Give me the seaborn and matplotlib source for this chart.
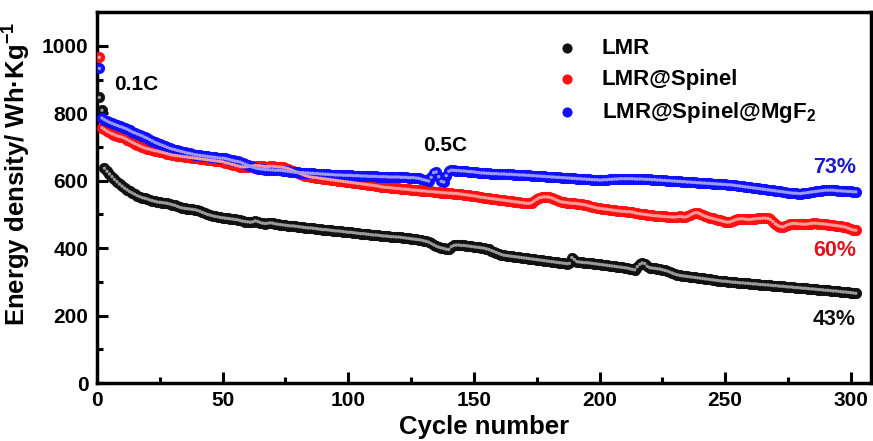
import numpy as np
import pandas as pd
import matplotlib
matplotlib.use("Agg")
import matplotlib.pyplot as plt
import seaborn as sns

# energy density (Wh/kg) per cycle
cycles = list(range(1, 303))

lmr = [847, 809, 637, 628, 620, 612, 604, 597, 590, 584,
       578, 573, 568, 564, 560, 556, 553, 550, 548, 546,
       543, 541, 539, 537, 536, 535, 534, 533, 531, 529,
       527, 524, 521, 519, 518, 517, 516, 515, 514, 512,
       509, 506, 503, 500, 498, 496, 494, 493, 491, 490,
       489, 488, 487, 486, 485, 484, 482, 480, 479, 478,
       477, 478, 481, 479, 476, 474, 473, 474, 475, 474,
       472, 471, 470, 469, 468, 467, 466, 466, 465, 464,
       463, 462, 461, 460, 460, 459, 458, 457, 456, 455,
       455, 454, 453, 452, 451, 451, 450, 449, 448, 447,
       447, 446, 445, 444, 443, 443, 442, 441, 440, 439,
       439, 438, 437, 436, 436, 435, 434, 434, 433, 433,
       432, 431, 430, 429, 428, 427, 426, 425, 424, 422,
       420, 418, 414, 410, 406, 403, 401, 399, 397, 396,
       404, 408, 409, 409, 408, 408, 407, 406, 405, 404,
       403, 402, 401, 400, 398, 396, 393, 390, 387, 384,
       381, 379, 378, 377, 376, 375, 374, 373, 372, 371,
       370, 369, 368, 367, 366, 365, 364, 363, 362, 361,
       360, 359, 358, 357, 356, 355, 354, 355, 372, 366,
       360, 359, 358, 357, 357, 356, 355, 354, 353, 352,
       351, 350, 349, 348, 347, 346, 345, 344, 343, 342,
       341, 339, 337, 336, 345, 352, 356, 354, 346, 342,
       341, 340, 339, 338, 336, 334, 332, 329, 326, 323,
       321, 319, 318, 317, 316, 315, 314, 313, 312, 311,
       310, 309, 308, 307, 306, 305, 304, 303, 302, 302,
       301, 300, 299, 299, 298, 297, 297, 296, 296, 295,
       294, 294, 293, 292, 292, 291, 291, 290, 289, 289,
       288, 287, 287, 286, 285, 285, 284, 283, 283, 282,
       281, 281, 280, 279, 279, 278, 277, 277, 276, 275,
       275, 274, 273, 273, 272, 271, 270, 270, 269, 268,
       267, 266]

spinel = [966, 757, 752, 747, 743, 739, 736, 733, 731, 729,
          726, 722, 718, 714, 710, 707, 703, 700, 697, 695,
          693, 691, 689, 688, 686, 684, 682, 680, 678, 676,
          675, 674, 673, 672, 671, 670, 669, 668, 667, 666,
          665, 664, 663, 662, 661, 660, 659, 658, 657, 656,
          654, 652, 650, 648, 646, 644, 642, 641, 641, 642,
          643, 644, 645, 645, 644, 643, 642, 642, 643, 643,
          642, 641, 641, 640, 638, 636, 633, 630, 627, 624,
          621, 618, 615, 613, 611, 610, 609, 608, 607, 606,
          605, 604, 603, 602, 601, 600, 599, 598, 597, 596,
          595, 594, 593, 592, 591, 590, 589, 588, 587, 586,
          585, 584, 582, 581, 580, 580, 579, 578, 577, 577,
          576, 575, 575, 574, 573, 572, 572, 571, 570, 570,
          569, 568, 568, 567, 566, 566, 565, 564, 564, 563,
          563, 562, 562, 561, 560, 559, 558, 557, 556, 555,
          554, 552, 551, 550, 549, 548, 547, 546, 545, 544,
          543, 542, 541, 540, 539, 538, 537, 536, 535, 534,
          533, 533, 535, 540, 545, 549, 551, 552, 552, 551,
          549, 546, 542, 539, 537, 536, 535, 534, 533, 533,
          532, 531, 530, 529, 527, 525, 523, 521, 519, 518,
          517, 516, 515, 514, 513, 512, 511, 510, 509, 509,
          508, 508, 507, 505, 503, 502, 501, 500, 499, 498,
          497, 496, 496, 495, 494, 494, 493, 493, 492, 492,
          493, 494, 493, 492, 494, 498, 502, 505, 505, 502,
          498, 495, 492, 490, 488, 486, 484, 482, 480, 478,
          477, 478, 481, 484, 486, 487, 487, 486, 485, 485,
          486, 487, 488, 488, 489, 489, 488, 485, 479, 472,
          467, 464, 463, 466, 470, 472, 473, 473, 472, 472,
          471, 471, 472, 473, 474, 474, 473, 472, 472, 471,
          470, 469, 468, 467, 466, 465, 464, 462, 459, 456,
          454, 453]

mgf2 = [933, 786, 781, 777, 773, 770, 767, 764, 761, 759,
        756, 753, 749, 745, 742, 739, 736, 733, 729, 726,
        722, 718, 714, 711, 708, 705, 702, 699, 696, 694,
        692, 690, 688, 686, 684, 682, 681, 679, 677, 676,
        675, 674, 673, 672, 671, 670, 669, 668, 667, 667,
        666, 664, 662, 660, 658, 657, 655, 652, 649, 646,
        643, 640, 638, 636, 635, 634, 633, 633, 632, 632,
        631, 631, 631, 630, 629, 628, 627, 626, 625, 625,
        624, 624, 623, 623, 622, 622, 621, 621, 620, 620,
        619, 619, 618, 618, 617, 617, 617, 616, 616, 616,
        616, 615, 615, 615, 614, 614, 614, 613, 613, 613,
        613, 612, 612, 612, 612, 611, 611, 611, 611, 611,
        610, 610, 610, 609, 609, 609, 608, 607, 605, 603,
        601, 599, 610, 624, 626, 612, 598, 596, 615, 628,
        631, 631, 630, 630, 629, 629, 628, 627, 627, 626,
        625, 624, 623, 623, 622, 622, 621, 621, 621, 620,
        620, 620, 619, 619, 619, 618, 618, 617, 617, 617,
        616, 616, 615, 615, 614, 614, 613, 613, 612, 612,
        611, 611, 610, 610, 609, 609, 608, 608, 607, 607,
        606, 606, 605, 605, 604, 604, 603, 603, 603, 602,
        602, 603, 603, 604, 604, 605, 605, 606, 606, 606,
        606, 606, 606, 605, 605, 605, 605, 604, 604, 604,
        603, 603, 602, 602, 601, 601, 600, 600, 599, 599,
        598, 598, 597, 597, 596, 596, 595, 595, 594, 594,
        593, 593, 592, 592, 591, 591, 590, 590, 589, 589,
        588, 588, 587, 586, 585, 584, 583, 582, 581, 580,
        579, 578, 577, 576, 575, 574, 573, 572, 571, 570,
        569, 568, 567, 566, 565, 564, 563, 563, 562, 562,
        563, 564, 565, 566, 567, 568, 569, 570, 571, 572,
        572, 572, 572, 571, 570, 570, 569, 569, 568, 568,
        567, 567]

labels = ["LMR", "LMR@Spinel", "LMR@Spinel@MgF$_2$"]
colors = ["#111111", "#ff1010", "#1010ff"]
shine = ["#9a9a9a", "#ff9a9a", "#9a9aff"]

sns.set_style("ticks")
plt.rcParams["font.family"] = ["Liberation Sans", "DejaVu Sans"]
plt.rcParams["font.weight"] = "bold"
plt.rcParams["text.color"] = "black"
plt.rcParams["axes.labelcolor"] = "black"
plt.rcParams["axes.edgecolor"] = "black"
plt.rcParams["xtick.color"] = "black"
plt.rcParams["ytick.color"] = "black"
plt.rcParams["mathtext.fontset"] = "custom"
plt.rcParams["mathtext.rm"] = "Liberation Sans:bold"
plt.rcParams["mathtext.it"] = "Liberation Sans:bold"
plt.rcParams["mathtext.bf"] = "Liberation Sans:bold"
plt.rcParams["mathtext.default"] = "rm"

df = pd.DataFrame({
    "cycle": cycles * 3,
    "energy": lmr + spinel + mgf2,
    "sample": [labels[0]] * len(lmr) + [labels[1]] * len(spinel) + [labels[2]] * len(mgf2),
})

fig = plt.figure(figsize=(8.73, 4.41), dpi=100)
ax = fig.add_axes([0.111, 0.1315, 0.8866, 0.841])

for lab, c, s in zip(labels, colors, shine):
    sub = df[df["sample"] == lab]
    sns.scatterplot(data=sub, x="cycle", y="energy", color=c, s=55,
                    edgecolor=c, linewidth=0.6, ax=ax, label=lab, zorder=3)
    sns.scatterplot(data=sub, x="cycle", y="energy", color=s, s=6,
                    edgecolor="none", ax=ax, legend=False, zorder=4)

ax.set_xlim(0, 308)
ax.set_ylim(0, 1100)
ax.set_xticks([0, 50, 100, 150, 200, 250, 300])
ax.set_xticks([25, 75, 125, 175, 225, 275], minor=True)
ax.set_yticks([0, 200, 400, 600, 800, 1000])
ax.set_yticks([100, 300, 500, 700, 900], minor=True)
ax.tick_params(which="major", direction="in", length=8, width=2.2,
               labelsize=15, top=False, right=False, pad=6)
ax.tick_params(which="minor", direction="in", length=4, width=2.2,
               top=False, right=False)
for lbl in ax.get_xticklabels() + ax.get_yticklabels():
    lbl.set_fontweight("bold")
for sp in ax.spines.values():
    sp.set_linewidth(2.5)
    sp.set_visible(True)

ax.set_xlabel("Cycle number", fontsize=18.5, fontweight="bold", labelpad=3)
ax.set_ylabel("Energy density/ Wh\u00b7Kg$^{-1}$", fontsize=18.5, fontweight="bold")
ax.yaxis.set_label_coords(-0.083, 0.563)

ax.text(7, 886, "0.1C", fontsize=15, fontweight="bold", va="center", ha="left")
ax.text(138.5, 705, "0.5C", fontsize=15, fontweight="bold", va="center", ha="center")
ax.text(302, 640, "73%", fontsize=15.5, fontweight="bold", va="center", ha="right", color="#1a1acc")
ax.text(302, 394, "60%", fontsize=15.5, fontweight="bold", va="center", ha="right", color="#e0141c")
ax.text(302, 187, "43%", fontsize=15.5, fontweight="bold", va="center", ha="right", color="#111111")

leg = ax.legend(loc="upper left", bbox_to_anchor=(0.553, 0.985), frameon=False,
                prop={"size": 16, "weight": "bold"}, handletextpad=0.55,
                labelspacing=0.45, markerscale=0.9)

fig.savefig("out.png", dpi=100)
